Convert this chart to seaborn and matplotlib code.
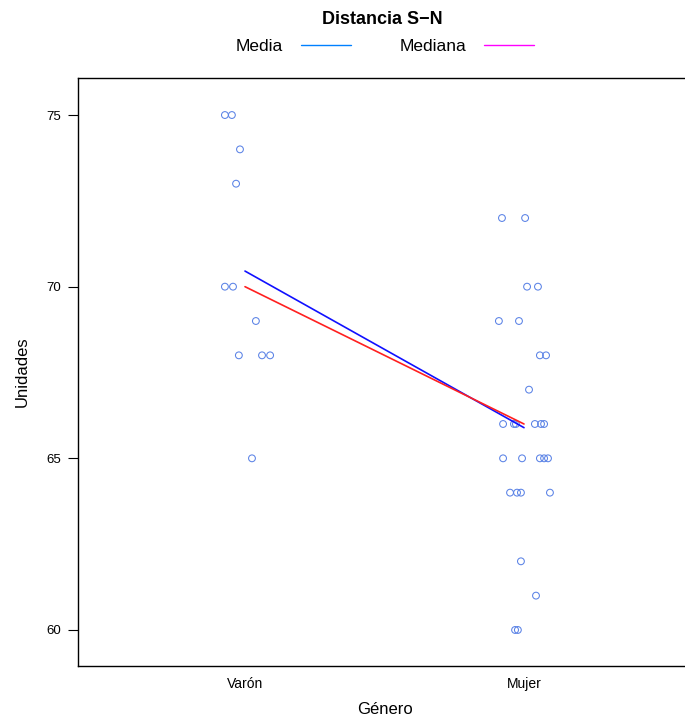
import numpy as np
import pandas as pd
import matplotlib
matplotlib.use("Agg")
import matplotlib.pyplot as plt
from matplotlib.lines import Line2D
import seaborn as sns

# ---- data ----
categories = ["Varón", "Mujer"]
varon_values = [75, 75, 74, 73, 70, 70, 69, 68, 68, 68, 65]
varon_jitter = [-0.072, -0.047, -0.018, -0.032, -0.072, -0.043, 0.039, -0.022, 0.061, 0.090, 0.025]
mujer_values = [72, 72, 70, 70, 69, 69, 68, 68, 67,
                66, 66, 66, 66, 66, 66,
                65, 65, 65, 65, 65,
                64, 64, 64, 64, 62, 61, 60, 60]
mujer_jitter = [-0.079, 0.004, 0.011, 0.050, -0.090, -0.018, 0.057, 0.079, 0.018,
                -0.075, -0.036, -0.029, 0.039, 0.061, 0.072,
                -0.075, -0.007, 0.057, 0.072, 0.086,
                -0.050, -0.025, -0.011, 0.093, -0.011, 0.043, -0.032, -0.022]
y_ticks = [60, 65, 70, 75]

sns.set_theme(style="white")
plt.rcParams["font.family"] = ["Liberation Sans", "DejaVu Sans"]
plt.rcParams["text.color"] = "black"
plt.rcParams["axes.labelcolor"] = "black"
plt.rcParams["xtick.color"] = "black"
plt.rcParams["ytick.color"] = "black"

df = pd.DataFrame({
    "Genero": [categories[0]] * len(varon_values) + [categories[1]] * len(mujer_values),
    "Unidades": varon_values + mujer_values,
    "jit": varon_jitter + mujer_jitter,
})
df["code"] = df["Genero"].map({c: i for i, c in enumerate(categories)})
df["xpos"] = df["code"] + df["jit"]

summ = df.groupby("code")["Unidades"].agg(["mean", "median"]).reset_index()

W, H = 685, 717
fig = plt.figure(figsize=(W / 100, H / 100), dpi=100)
ax = fig.add_axes([78 / W, 1 - 666 / H, (692 - 78) / W, (666 - 78) / H])

sns.scatterplot(data=df, x="xpos", y="Unidades", ax=ax, marker="o",
                facecolor="none", edgecolor="#5a82e6", linewidth=0.75, s=24, legend=False)
sns.lineplot(data=summ, x="code", y="mean", ax=ax, color="#1010ff", linewidth=1.2, legend=False)
sns.lineplot(data=summ, x="code", y="median", ax=ax, color="#ff2020", linewidth=1.2, legend=False)

px = 279.0
ax.set_xlim(-(245 - 78) / px, (692 - 245) / px)
ax.set_ylim(60 - (666 - 630) / 34.3, 75 + (115 - 78) / 34.3)
ax.set_xticks(range(len(categories)))
ax.set_xticklabels(categories)
ax.set_yticks(y_ticks)
ax.set_yticklabels([str(t) for t in y_ticks])
ax.tick_params(axis="x", length=0, pad=8, labelsize=10, colors="black")
ax.tick_params(axis="y", length=7, width=0.8, direction="out", left=True, pad=5,
               labelsize=9.5, colors="black")
ax.set_xlabel("Género", fontsize=12, labelpad=8, color="black")
ax.set_ylabel("Unidades", fontsize=12, labelpad=12, color="black")
for s in ax.spines.values():
    s.set_visible(True)
    s.set_color("black")
    s.set_linewidth(1.0)

fig.text(382 / W, 1 - 20 / H, "Distancia S\u2212N", ha="center", va="center",
         fontsize=13, fontweight="bold", color="black")
handles = [Line2D([], [], color="#0080ff", lw=1.0), Line2D([], [], color="#ff00ff", lw=1.0)]
fig.legend(handles, ["Media", "Mediana"], ncol=2, frameon=False, markerfirst=False,
           loc="center", bbox_to_anchor=(385 / W, 1 - 46 / H), fontsize=12.5,
           handlelength=2.9, handletextpad=1.0, columnspacing=2.8, labelcolor="black")

fig.savefig("out.png", dpi=100)
